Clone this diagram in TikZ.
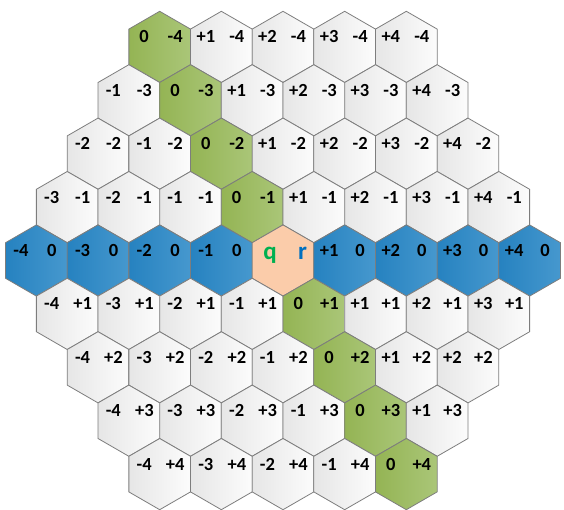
\documentclass[tikz,border=0pt]{standalone}
\usepackage{fontspec}
\setmainfont{Carlito}
\definecolor{hexline}{RGB}{125,125,125}
\definecolor{wl}{RGB}{230,230,230}
\definecolor{wr}{RGB}{252,252,252}
\definecolor{gl}{RGB}{148,180,84}
\definecolor{gr}{RGB}{170,198,120}
\definecolor{bl}{RGB}{38,130,192}
\definecolor{br}{RGB}{70,152,206}
\definecolor{pk}{RGB}{251,204,170}
\definecolor{qgreen}{RGB}{0,176,80}
\definecolor{rblue}{RGB}{0,112,192}
\newcommand\hexat[3]{\path[#1] (#2,#3+35.6) -- (#2+30.83,#3+17.8) -- (#2+30.83,#3-17.8) -- (#2,#3-35.6) -- (#2-30.83,#3-17.8) -- (#2-30.83,#3+17.8) -- cycle;}
\begin{document}
\begin{tikzpicture}[x=1pt,y=1pt,
  hexwhite/.style={draw=hexline, line width=0.8pt, left color=wl, right color=wr},
  hexgreen/.style={draw=hexline, line width=0.8pt, left color=gl, right color=gr},
  hexblue/.style={draw=hexline, line width=0.8pt, left color=bl, right color=br},
  hexpeach/.style={draw=hexline, line width=0.8pt, fill=pk},
  lab/.style={font=\bfseries\fontsize{18.5}{18.5}\selectfont, anchor=base, inner sep=0pt},
  qrlab/.style={font=\bfseries\fontsize{25}{25}\selectfont, anchor=base, inner sep=0pt}]
\useasboundingbox (0,0) rectangle (564,509);
\foreach \r in {-4,...,4}{
  \pgfmathtruncatemacro\qmin{max(-4,-4-\r)}
  \pgfmathtruncatemacro\qmax{min(4,4-\r)}
  \foreach \q in {\qmin,...,\qmax}{
    \pgfmathsetmacro\cx{283+(\q+\r/2)*61.66}
    \pgfmathsetmacro\cy{248.5-\r*53.4}
    \ifnum\q=0
      \ifnum\r=0 \hexat{hexpeach}{\cx}{\cy}\else\hexat{hexgreen}{\cx}{\cy}\fi
    \else
      \ifnum\r=0 \hexat{hexblue}{\cx}{\cy}\else\hexat{hexwhite}{\cx}{\cy}\fi
    \fi
    \ifnum\q=0 \ifnum\r=0
      \node[qrlab, text=qgreen] (lq\q_\r) at (\cx-13,\cy+0.5) {q};
      \node[qrlab, text=rblue] (lr\q_\r) at (\cx+19.5,\cy+0.5) {r};
    \else
      \node[lab] (lq\q_\r) at (\cx-15.5,\cy+4) {0};
      \node[lab] (lr\q_\r) at (\cx+15.5,\cy+4) {\ifnum\r>0 +\r\else\r\fi};
    \fi\else
      \node[lab] (lq\q_\r) at (\cx-15.5,\cy+4) {\ifnum\q>0 +\q\else\q\fi};
      \node[lab] (lr\q_\r) at (\cx+15.5,\cy+4) {\ifnum\r>0 +\r\else\r\fi};
    \fi
  }
}
\end{tikzpicture}
\end{document}
